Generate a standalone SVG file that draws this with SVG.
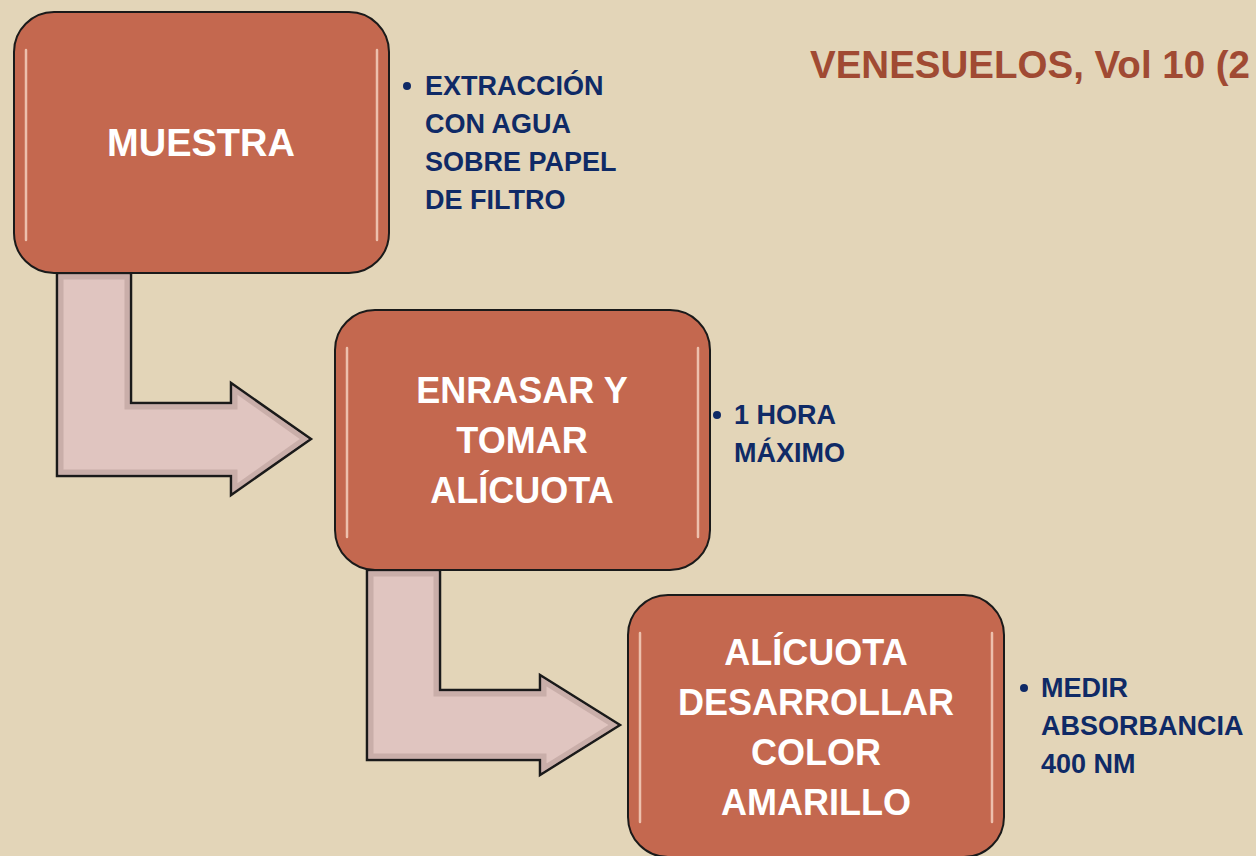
<svg xmlns="http://www.w3.org/2000/svg" width="1256" height="856" viewBox="0 0 1256 856">
<defs>
<style>
.box{fill:#c4684f;stroke:#1a1a1a;stroke-width:2}
.hl{fill:none;stroke:#f8d6c4;stroke-width:2.5;opacity:0.8;stroke-linecap:round}
.arrow{fill:#e0c5c0;stroke:#1a1a1a;stroke-width:2.5;stroke-linejoin:miter}
.abevel{fill:none;stroke:#a88c88;stroke-width:5;opacity:0.4;stroke-linejoin:miter}
.lbl{font-family:"Liberation Sans",Arial,sans-serif;font-weight:bold;fill:#ffffff;text-anchor:middle;font-size:36px}
.note{font-family:"Liberation Sans",Arial,sans-serif;font-weight:bold;fill:#0f2a66;font-size:27px}
.title{font-family:"Liberation Sans",Arial,sans-serif;font-weight:bold;fill:#a04a33;font-size:38.5px}
</style>
</defs>
<rect x="0" y="0" width="1256" height="856" fill="#e3d5b8"/>
<text class="title" x="810" y="78">VENESUELOS, Vol 10 (2</text>
<g id="connectors">
<path class="arrow" d="M57,273 H131 V403 H231 V383 L311,439 L231,495 V476 H57 Z"/>
<path class="abevel" d="M61,277 H127 V407 H235 V390 L304,439 L235,488 V472 H61 Z"/>
<path class="arrow" d="M367,570 H440 V690 H540 V675 L620,725 L540,775 V760 H367 Z"/>
<path class="abevel" d="M371,574 H436 V694 H544 V682 L613,725 L544,768 V756 H371 Z"/>
</g>
<g id="node-muestra">
<rect class="box" x="14" y="12" width="375" height="261" rx="40"/>
<path class="hl" d="M26,240 V50 M377,50 V240"/>
<text class="lbl" x="201" y="156" style="font-size:38px">MUESTRA</text>
</g>
<g id="note-muestra">
<circle cx="407" cy="86" r="4" fill="#0f2a66"/>
<text class="note" x="425" y="95">EXTRACCIÓN</text>
<text class="note" x="425" y="133">CON AGUA</text>
<text class="note" x="425" y="171">SOBRE PAPEL</text>
<text class="note" x="425" y="209">DE FILTRO</text>
</g>
<g id="node-enrasar">
<rect class="box" x="335" y="310" width="375" height="260" rx="40"/>
<path class="hl" d="M347,537 V348 M698,348 V537"/>
<text class="lbl" x="522" y="403">ENRASAR Y</text>
<text class="lbl" x="522" y="453">TOMAR</text>
<text class="lbl" x="522" y="503">ALÍCUOTA</text>
</g>
<g id="note-enrasar">
<circle cx="717" cy="415" r="4" fill="#0f2a66"/>
<text class="note" x="734" y="424">1 HORA</text>
<text class="note" x="734" y="462">MÁXIMO</text>
</g>
<g id="node-alicuota">
<rect class="box" x="628" y="595" width="376" height="262" rx="40"/>
<path class="hl" d="M640,822 V633 M992,633 V822"/>
<text class="lbl" x="816" y="665">ALÍCUOTA</text>
<text class="lbl" x="816" y="715">DESARROLLAR</text>
<text class="lbl" x="816" y="765">COLOR</text>
<text class="lbl" x="816" y="815">AMARILLO</text>
</g>
<g id="note-alicuota">
<circle cx="1024" cy="688" r="4" fill="#0f2a66"/>
<text class="note" x="1041" y="697">MEDIR</text>
<text class="note" x="1041" y="735">ABSORBANCIA</text>
<text class="note" x="1041" y="773">400 NM</text>
</g>
</svg>
